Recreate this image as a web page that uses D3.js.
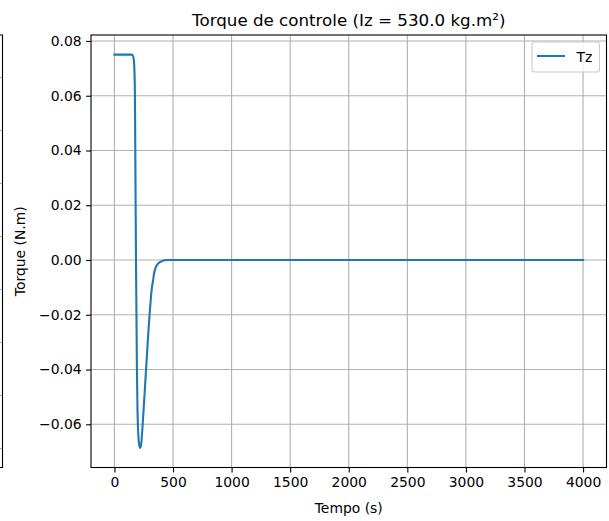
<!DOCTYPE html>
<html>
<head>
<meta charset="utf-8">
<script src="https://cdn.jsdelivr.net/npm/d3@7"></script>
<style>
  html, body { margin: 0; padding: 0; background: #fff; }
  svg { display: block; font-family: "DejaVu Sans", sans-serif; }
</style>
</head>
<body>
<svg id="chart" width="609" height="521"></svg>
<script>
// Control torque response Tz (N.m) against time (s)
const timeS = [0, 100, 145, 155, 163, 170, 175, 178, 181, 184, 188, 192, 197, 203, 211, 220, 229, 238, 250, 270, 300, 320, 329, 338, 358, 380, 410, 450, 500, 1000, 2000, 3000, 4000];
const torqueTz = [0.075, 0.075, 0.075, 0.0748, 0.0738, 0.070, 0.06, 0.04, 0.02, 0.0, -0.02, -0.04, -0.055, -0.063, -0.0675, -0.0686, -0.067, -0.062, -0.054, -0.04, -0.02, -0.01, -0.0077, -0.005, -0.0022, -0.001, -0.0003, 0.0, 0.0, 0.0, 0.0, 0.0, 0.0];
const xTicks = [0, 500, 1000, 1500, 2000, 2500, 3000, 3500, 4000];
const yTicks = [-0.06, -0.04, -0.02, 0.00, 0.02, 0.04, 0.06, 0.08];
const seriesName = "Tz";
const titleText = "Torque de controle (Iz = 530.0 kg.m²)";
const xLabel = "Tempo (s)";
const yLabel = "Torque (N.m)";
// grid rows of the neighbouring subplot, only its right edge is visible
const neighbourGrid = [1, 2, 3, 4, 5, 6, 7, 8];

const svg = d3.select("#chart");
const box = { left: 91, right: 606.5, top: 35, bottom: 467.5 };

// matplotlib-style 5% margins around the data extent
function padded(ext) {
  const m = (ext[1] - ext[0]) * 0.05;
  return [ext[0] - m, ext[1] + m];
}
const x = d3.scaleLinear().domain(padded(d3.extent(timeS))).range([box.left, box.right]);
const y = d3.scaleLinear().domain(padded(d3.extent(torqueTz))).range([box.bottom, box.top]);

const gridColor = "#b0b0b0";

// neighbouring panel edge on the far left
const yn = d3.scaleLinear().domain([0.622, 8.798]).range([box.bottom, box.top]);
svg.append("g").selectAll("line").data(neighbourGrid).join("line")
  .attr("x1", 0).attr("x2", 2.5)
  .attr("y1", d => Math.round(yn(d)) + 0.5).attr("y2", d => Math.round(yn(d)) + 0.5)
  .attr("stroke", gridColor).attr("stroke-width", 1.1);
svg.append("path")
  .attr("d", `M0,${box.top}H2.5V${box.bottom}H0`)
  .attr("fill", "none").attr("stroke", "#000").attr("stroke-width", 1.1);

// grid
const grid = svg.append("g");
grid.selectAll("line.gx").data(xTicks).join("line").attr("class", "gx")
  .attr("x1", d => x(d)).attr("x2", d => x(d))
  .attr("y1", box.top).attr("y2", box.bottom)
  .attr("stroke", gridColor).attr("stroke-width", 1.1);
grid.selectAll("line.gy").data(yTicks).join("line").attr("class", "gy")
  .attr("y1", d => y(d)).attr("y2", d => y(d))
  .attr("x1", box.left).attr("x2", box.right)
  .attr("stroke", gridColor).attr("stroke-width", 1.1);

// torque curve
const line = d3.line().x((d, i) => x(timeS[i])).y(d => y(d)).curve(d3.curveMonotoneX);
svg.append("path").datum(torqueTz)
  .attr("d", line)
  .attr("fill", "none").attr("stroke", "#1f77b4").attr("stroke-width", 2.1)
  .attr("stroke-linejoin", "round").attr("stroke-linecap", "square");

// axes
const fmtY = d => d3.format(".2f")(d).replace("-", "\u2212");
const xAxis = d3.axisBottom(x).tickValues(xTicks).tickSizeInner(4.9).tickSizeOuter(0).tickPadding(4.5).tickFormat(d3.format("d"));
const yAxis = d3.axisLeft(y).tickValues(yTicks).tickSizeInner(4.9).tickSizeOuter(0).tickPadding(4.5).tickFormat(fmtY);

const gx = svg.append("g").attr("transform", `translate(0,${box.bottom})`).call(xAxis);
const gy = svg.append("g").attr("transform", `translate(${box.left},0)`).call(yAxis);
[gx, gy].forEach(g => {
  g.select(".domain").remove();
  g.selectAll(".tick line").attr("stroke", "#000").attr("stroke-width", 1.1);
  g.selectAll(".tick text").attr("fill", "#000").style("font-size", "13.9px").style("font-family", "DejaVu Sans");
});

// frame
svg.append("rect")
  .attr("x", box.left).attr("y", box.top)
  .attr("width", box.right - box.left).attr("height", box.bottom - box.top)
  .attr("fill", "none").attr("stroke", "#000").attr("stroke-width", 1.1);

// title and labels
svg.append("text").attr("x", (box.left + box.right) / 2).attr("y", 26)
  .attr("text-anchor", "middle").style("font-size", "16.7px").attr("fill", "#000").text(titleText);
svg.append("text").attr("x", (box.left + box.right) / 2).attr("y", 513)
  .attr("text-anchor", "middle").style("font-size", "13.9px").attr("fill", "#000").text(xLabel);
svg.append("text").attr("transform", `translate(25,${(box.top + box.bottom) / 2}) rotate(-90)`)
  .attr("text-anchor", "middle").style("font-size", "13.9px").attr("fill", "#000").text(yLabel);

// legend
const lg = svg.append("g").attr("transform", `translate(${box.right - 7},${box.top + 7})`);
lg.append("rect").attr("x", -67.5).attr("y", 0).attr("width", 67.5).attr("height", 30)
  .attr("rx", 2.8).attr("fill", "#fff").attr("fill-opacity", 0.8)
  .attr("stroke", "#cccccc").attr("stroke-width", 1.1);
lg.append("line").attr("x1", -62.5).attr("x2", -34.5).attr("y1", 14).attr("y2", 14)
  .attr("stroke", "#1f77b4").attr("stroke-width", 2.1);
lg.append("text").attr("x", -23).attr("y", 19.5).style("font-size", "13.9px").attr("fill", "#000").text(seriesName);
</script>
</body>
</html>
